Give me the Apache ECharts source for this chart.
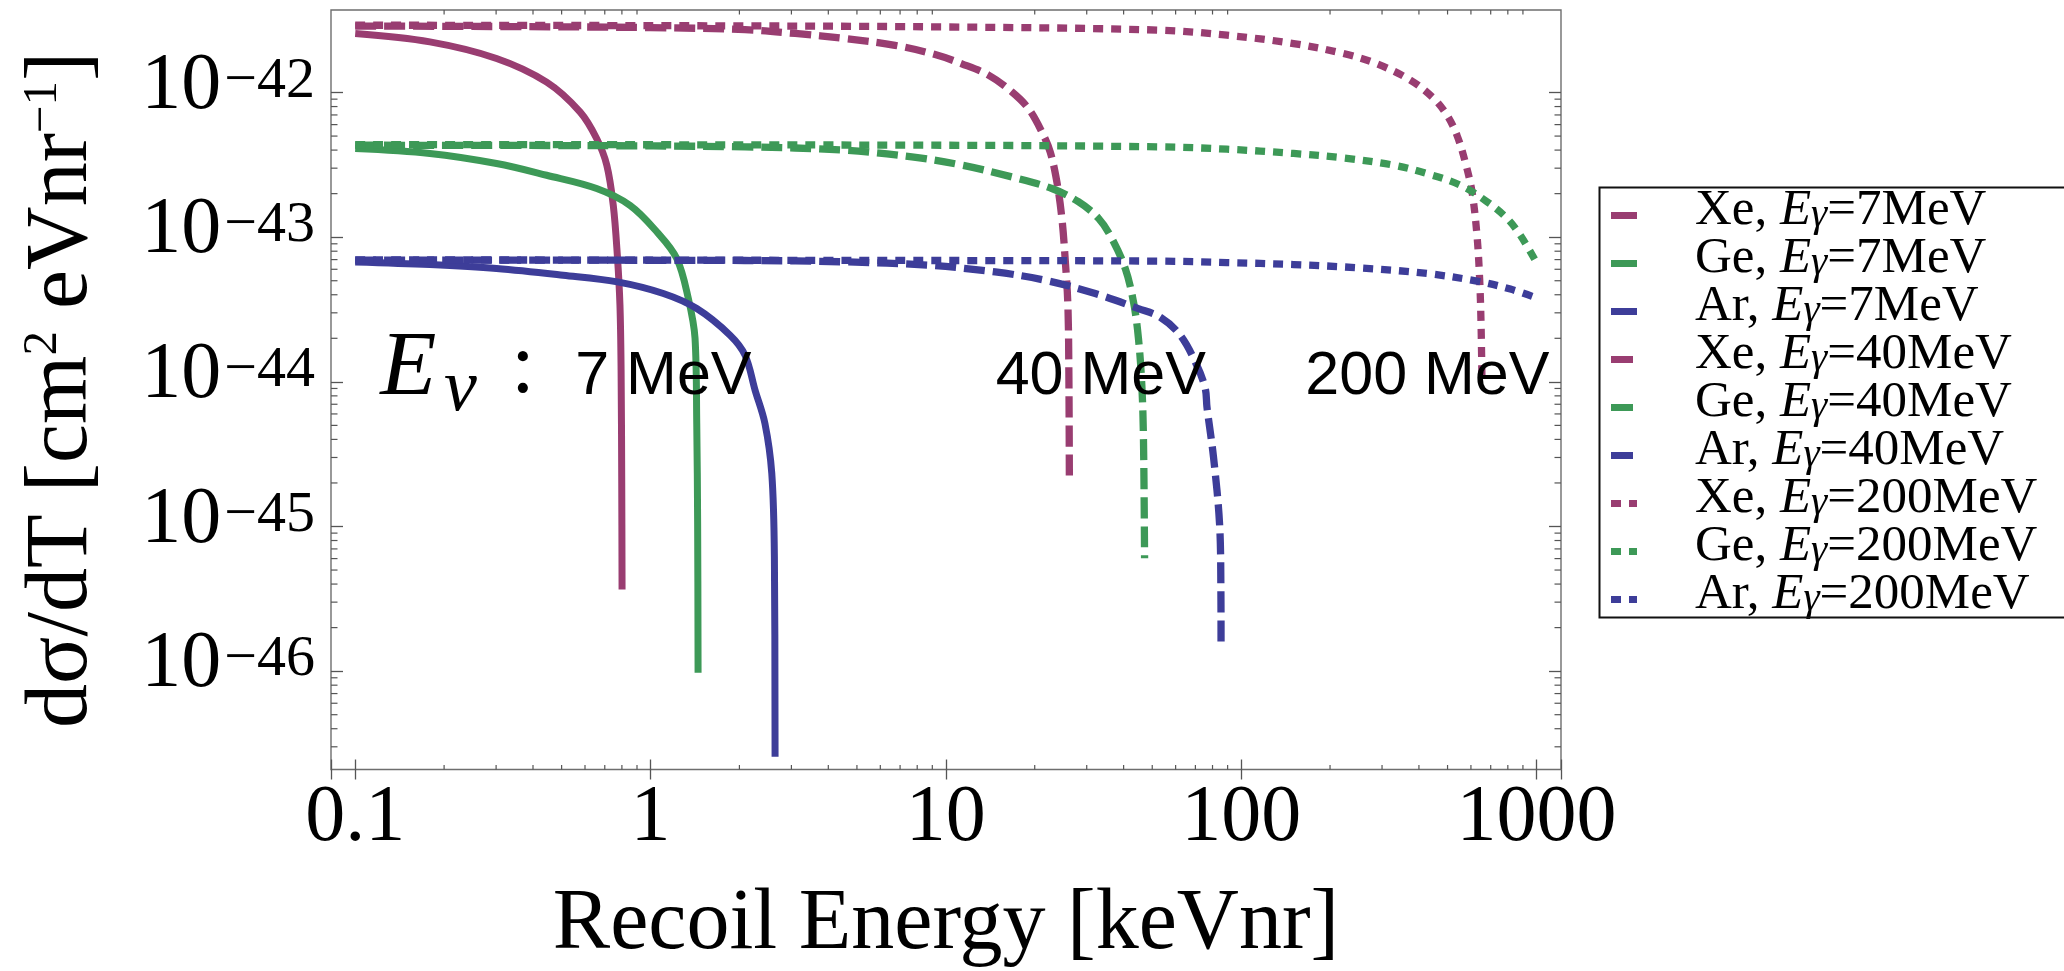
<!DOCTYPE html>
<html><head><meta charset="utf-8">
<script src="https://cdn.jsdelivr.net/npm/echarts@6/dist/echarts.min.js"></script>
<style>html,body{margin:0;padding:0;background:#fff}#c{width:2064px;height:971px}</style>
</head><body><div id="c"></div>
<script>
// ---------------- data ----------------
const elements = ['Xe', 'Ge', 'Ar'];
const energies = [7, 40, 200];

// 7 MeV
const xe7X = [0.1, 0.179, 0.301, 0.445, 0.577, 0.657, 0.711, 0.748, 0.772, 0.788, 0.795, 0.799, 0.801];
const xe7Y = [2.56e-42, 2.24e-42, 1.72e-42, 1.18e-42, 7.35e-43, 4.81e-43, 3.15e-43, 1.66e-43, 7.5e-44, 3.39e-44, 1.2e-44, 2e-45, 3.67e-46];
const ge7X = [0.1, 0.179, 0.301, 0.445, 0.657, 0.852, 1.05, 1.227, 1.343, 1.415, 1.434, 1.444, 1.449];
const ge7Y = [4.1e-43, 3.79e-43, 3.23e-43, 2.68e-43, 2.17e-43, 1.66e-43, 1.09e-43, 7.13e-44, 3.77e-44, 2.0e-44, 5.16e-45, 1.05e-45, 9.75e-47];
const ar7X = [0.1, 0.179, 0.301, 0.506, 0.772, 1.105, 1.434, 1.859, 2.089, 2.26, 2.44, 2.574, 2.627, 2.641];
const ar7Y = [6.75e-44, 6.47e-44, 6.08e-44, 5.46e-44, 4.91e-44, 4.08e-44, 3.21e-44, 2.10e-44, 1.53e-44, 8.76e-45, 5.16e-45, 2.33e-45, 6.18e-46, 2.56e-47];
// 40 MeV
const xe40X = [0.1, 0.3, 1, 2.09, 3.09, 4.56, 6.73, 9.2, 11.33, 13.95, 16.74, 19.05, 21.15, 22.56, 23.77, 24.72, 25.35, 25.9, 26.1, 26.2];
const xe40Y = [2.88e-42, 2.86e-42, 2.81e-42, 2.72e-42, 2.56e-42, 2.36e-42, 2.12e-42, 1.83e-42, 1.58e-42, 1.32e-42, 1.01e-42, 7.74e-43, 5.34e-43, 3.89e-43, 2.41e-43, 1.35e-43, 7.13e-44, 3.39e-44, 1.17e-44, 2.09e-45];
const ge40X = [0.1, 0.5, 2.09, 4.56, 7.67, 11.33, 16.74, 22.86, 28.1, 32.9, 36.5, 40.5, 43.2, 44.9, 46.1, 46.7, 47.1];
const ge40Y = [4.32e-43, 4.3e-43, 4.21e-43, 3.99e-43, 3.59e-43, 3.15e-43, 2.61e-43, 2.17e-43, 1.76e-43, 1.35e-43, 9.8e-44, 6.08e-44, 3.57e-44, 2.0e-44, 9.48e-45, 3.95e-45, 6.03e-46];
const ar40X = [0.1, 2.09, 4.56, 8.73, 14.7, 21.7, 32.05, 44.9, 53.2, 62.2, 70.8, 75.6, 76.6, 80.6, 84.5, 85.4, 85.5];
const ar40Y = [6.95e-44, 6.9e-44, 6.75e-44, 6.40e-44, 5.75e-44, 5.04e-44, 4.08e-44, 3.21e-44, 2.8e-44, 2.10e-44, 1.30e-44, 9.0e-45, 6.71e-45, 3.03e-45, 1.05e-45, 3.63e-46, 1.54e-46];
// 200 MeV
const xe200X = [0.1, 1, 10, 53.2, 89.5, 150.5, 222, 288, 374, 449, 498, 538, 574, 605, 629, 642, 649, 654];
const xe200Y = [2.92e-42, 2.9e-42, 2.84e-42, 2.70e-42, 2.49e-42, 2.18e-42, 1.86e-42, 1.58e-42, 1.22e-42, 9.1e-43, 6.97e-43, 5.07e-43, 3.31e-43, 2.06e-43, 1.03e-43, 5.19e-44, 2.60e-44, 1.0e-44];
const ge200X = [0.1, 10, 53.2, 89.5, 150.5, 222, 328, 426, 552, 680, 795, 882, 1000];
const ge200Y = [4.37e-43, 4.32e-43, 4.21e-43, 4.06e-43, 3.79e-43, 3.53e-43, 3.15e-43, 2.75e-43, 2.29e-43, 1.76e-43, 1.35e-43, 1.03e-43, 6.7e-44];
const ar200X = [0.1, 10, 53.2, 89.5, 150.5, 253, 426, 629, 816, 1000];
const ar200Y = [6.97e-44, 6.9e-44, 6.83e-44, 6.68e-44, 6.47e-44, 6.13e-44, 5.61e-44, 4.97e-44, 4.38e-44, 3.8e-44];

// axes
const xMin = 0.0828, xMax = 1211;
const yMin = 2.09e-47, yMax = 3.72e-42;
const xTickValues = [0.1, 1, 10, 100, 1000];
const xTickLabels = ['0.1', '1', '10', '100', '1000'];
const yTickExps = [-42, -43, -44, -45, -46];
const yTickSups = ['\u221242', '\u221243', '\u221244', '\u221245', '\u221246'];
const xMinorDecades = [-1, 0, 1, 2];
const yMinorDecades = [-47, -46, -45, -44, -43];
const minorMultipliers = [2, 3, 4, 5, 6, 7, 8, 9];

// annotations (data coordinates)
const annoText = ['E', '\u03bd', ':', '7 MeV', '40 MeV', '200 MeV'];
const annoX = [0.1215, 0.2, 0.3368, 0.556, 14.75, 164.9];
const annoY = [1.218e-44, 8.66e-45, 1.218e-44, 1.074e-44, 1.074e-44, 1.074e-44];

// ---------------- styles ----------------
const SERIF = 'Liberation Serif';
const SANS = 'Liberation Sans';
const colorOf = { Xe: '#993d71', Ge: '#3d9957', Ar: '#3d3d99' };
const styleOf = {
  7:   { type: 'solid', width: 7 },
  40:  { type: [21, 8], width: 7.3 },
  200: { type: [10, 8], width: 7.3 }
};
// legend sample icons (bounding box 79x44, visible bar 7px high)
const iconOf = {
  7:   'path://M0,0M79,44M0,19H26V26H0Z',
  40:  'path://M0,0M79,44M0,19H22V26H0Z',
  200: 'path://M0,0M79,44M0,19H10V26H0ZM18,19H26V26H18Z'
};
const annoStyle = [
  { fontFamily: SERIF, fontStyle: 'italic', fontSize: 92 },
  { fontFamily: SERIF, fontStyle: 'italic', fontSize: 74 },
  { fontFamily: SERIF, fontSize: 86 },
  { fontFamily: SANS, fontSize: 61 },
  { fontFamily: SANS, fontSize: 61 },
  { fontFamily: SANS, fontSize: 61 }
];
const tickColor = '#555';

const seriesData = {
  Xe: { 7: [xe7X, xe7Y], 40: [xe40X, xe40Y], 200: [xe200X, xe200Y] },
  Ge: { 7: [ge7X, ge7Y], 40: [ge40X, ge40Y], 200: [ge200X, ge200Y] },
  Ar: { 7: [ar7X, ar7Y], 40: [ar40X, ar40Y], 200: [ar200X, ar200Y] }
};

const lineSeries = [];
const legendData = [];
energies.forEach(E => {
  elements.forEach(el => {
    const [xs, ys] = seriesData[el][E];
    const name = el + ', E\u03b3=' + E + 'MeV';
    legendData.push({ name: name, icon: iconOf[E] });
    lineSeries.push({
      name: name,
      type: 'line',
      data: xs.map((x, i) => [x, ys[i]]),
      symbol: 'none',
      smooth: 0.35,
      color: colorOf[el],
      itemStyle: { color: colorOf[el], borderWidth: 0 },
      lineStyle: { color: colorOf[el], width: styleOf[E].width, type: styleOf[E].type, cap: 'butt' },
      z: 3,
      silent: true
    });
  });
});

const xMinor = [];
xMinorDecades.forEach(d => minorMultipliers.forEach(k => { const v = k * Math.pow(10, d); if (v > xMin && v < xMax) xMinor.push([v, 1e-44]); }));
const yMinor = [];
yMinorDecades.forEach(d => minorMultipliers.forEach(k => { const v = k * Math.pow(10, d); if (v > yMin && v < 1e-42) yMinor.push([1, v]); }));

const minorX = {
  type: 'custom', silent: true, z: 2, data: xMinor,
  renderItem: (params, api) => {
    const cs = params.coordSys;
    const x = api.coord([api.value(0), api.value(1)])[0];
    const b = cs.y + cs.height, t = cs.y, len = 4.5;
    return { type: 'group', children: [
      { type: 'line', shape: { x1: x, y1: b, x2: x, y2: b - len }, style: { stroke: tickColor, lineWidth: 1.2 } },
      { type: 'line', shape: { x1: x, y1: t, x2: x, y2: t + len }, style: { stroke: tickColor, lineWidth: 1.2 } }
    ] };
  }
};
const minorY = {
  type: 'custom', silent: true, z: 2, data: yMinor,
  renderItem: (params, api) => {
    const cs = params.coordSys;
    const y = api.coord([api.value(0), api.value(1)])[1];
    const l = cs.x, r = cs.x + cs.width, len = 6.5;
    return { type: 'group', children: [
      { type: 'line', shape: { x1: l, y1: y, x2: l + len, y2: y }, style: { stroke: tickColor, lineWidth: 1.2 } },
      { type: 'line', shape: { x1: r, y1: y, x2: r - len, y2: y }, style: { stroke: tickColor, lineWidth: 1.2 } }
    ] };
  }
};

const annoSeries = {
  type: 'scatter', silent: true, symbolSize: 0, z: 5,
  itemStyle: { opacity: 1 },
  data: annoText.map((t, i) => ({
    value: [annoX[i], annoY[i]],
    label: Object.assign({ show: true, position: 'right', distance: 0, formatter: t, color: '#000', opacity: 1, textBorderWidth: 0, align: 'left', verticalAlign: 'middle' }, annoStyle[i])
  }))
};

function xLabel(v) {
  const i = xTickValues.findIndex(t => Math.abs(Math.log10(t) - Math.log10(v)) < 1e-6);
  return i < 0 ? '' : '{b|' + xTickLabels[i] + '}';
}
function yLabel(v) {
  const e = Math.round(Math.log10(v));
  if (Math.abs(Math.log10(v) - e) > 1e-6) return '';
  const i = yTickExps.indexOf(e);
  return i < 0 ? '' : '{b|10}{s|' + yTickSups[i] + '}';
}

const xAxisCommon = {
  type: 'log', logBase: 10, min: xMin, max: xMax,
  axisLine: { show: false },
  splitLine: { show: false },
  minorTick: { show: false },
  axisTick: { show: true, inside: true, length: 10, lineStyle: { color: tickColor, width: 1.3 } }
};
const yAxisCommon = {
  type: 'log', logBase: 10, min: yMin, max: yMax,
  axisLine: { show: false },
  splitLine: { show: false },
  minorTick: { show: false },
  axisTick: { show: true, inside: true, length: 12, lineStyle: { color: tickColor, width: 1.3 } }
};

const option = {
  animation: false,
  backgroundColor: '#fff',
  grid: { left: 331, top: 10, width: 1230, height: 759.5, show: true, borderColor: '#6e6e6e', borderWidth: 1.4, backgroundColor: 'transparent', containLabel: false, outerBoundsMode: 'none' },
  graphic: [
    // legend frame (runs past the right edge of the canvas, as in the original)
    { type: 'rect', left: 1597, top: 185, z: 100, silent: true,
      shape: { width: 520, height: 430 }, style: { fill: 'none', stroke: '#111', lineWidth: 2 } }
  ],
  xAxis: [
    Object.assign({}, xAxisCommon, {
      position: 'bottom',
      axisLabel: { formatter: xLabel, margin: 9, color: '#000', rich: { b: { fontFamily: SERIF, fontSize: 80, lineHeight: 80, color: '#000' } } },
      name: 'Recoil Energy [keVnr]', nameLocation: 'middle', nameGap: 113, nameMoveOverlap: false,
      nameTextStyle: { fontFamily: SERIF, fontSize: 86, lineHeight: 86, color: '#000' }
    }),
    Object.assign({}, xAxisCommon, { position: 'top', axisLabel: { show: false } })
  ],
  yAxis: [
    Object.assign({}, yAxisCommon, {
      position: 'left',
      axisLabel: { formatter: yLabel, margin: 16, color: '#000', rich: {
        b: { fontFamily: SERIF, fontSize: 80, lineHeight: 80, padding: [11, 0, 6, 0], verticalAlign: 'bottom', color: '#000' },
        s: { fontFamily: SERIF, fontSize: 58, lineHeight: 58, verticalAlign: 'top', padding: [0, 0, 0, 3], color: '#000' }
      } },
      name: '{a|d\u03c3/dT [cm}{s|2}{a| eVnr}{s|\u22121}{a|]}', nameLocation: 'middle', nameRotate: 90, nameGap: 224,
      nameMoveOverlap: false,
      nameTextStyle: { color: '#000', rich: {
        a: { fontFamily: SERIF, fontSize: 88, lineHeight: 88, padding: [10, 0, 0, 0], verticalAlign: 'bottom', color: '#000' },
        s: { fontFamily: SERIF, fontSize: 49, lineHeight: 49, verticalAlign: 'top', color: '#000' }
      } }
    }),
    Object.assign({}, yAxisCommon, { position: 'right', axisLabel: { show: false } })
  ],
  legend: {
    data: legendData,
    orient: 'vertical',
    left: 1597, top: 185,
    padding: [0, 20, 5, 14],
    itemGap: -4,
    itemWidth: 79,
    itemHeight: 44,
    borderWidth: 0,
    selectedMode: false,
    itemStyle: { borderWidth: 0 },
    formatter: name => {
      const m = name.match(/^(\w+), E\u03b3=(\d+)MeV$/);
      return '{t|' + m[1] + ', }{i|E}{u|\u03b3}{t|=' + m[2] + 'MeV}';
    },
    textStyle: { color: '#000', rich: {
      t: { fontFamily: SERIF, fontSize: 51, lineHeight: 42, verticalAlign: 'bottom', color: '#000' },
      i: { fontFamily: SERIF, fontStyle: 'italic', fontSize: 51, lineHeight: 42, verticalAlign: 'bottom', color: '#000' },
      u: { fontFamily: SERIF, fontStyle: 'italic', fontSize: 41, lineHeight: 22, verticalAlign: 'bottom', color: '#000' }
    } }
  },
  series: lineSeries.concat([minorX, minorY, annoSeries])
};

const chart = echarts.init(document.getElementById('c'), null, { renderer: 'canvas' });
chart.setOption(option);
</script>
</body></html>
